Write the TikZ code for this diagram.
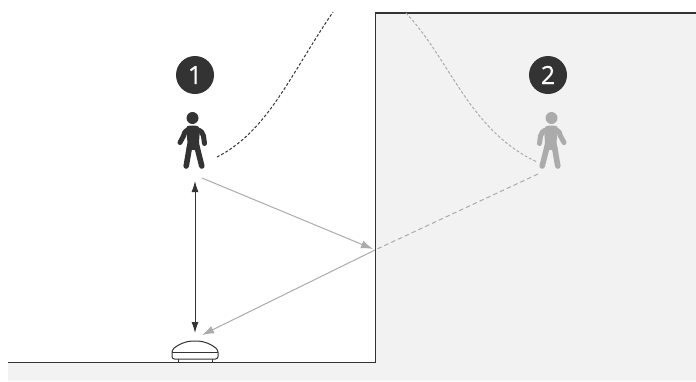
\documentclass[tikz,border=0pt]{standalone}
\usepackage{fontspec}
\setmainfont{Open Sans}
\newfontfamily\badgefont[FakeBold=0.6]{Open Sans}
\usetikzlibrary{arrows.meta}
\definecolor{dark}{HTML}{333333}
\definecolor{mid}{HTML}{ABABAB}
\definecolor{wall}{HTML}{F2F2F2}
\tikzset{
  badge/.style={circle,fill=dark,text=white,minimum size=38pt,inner sep=0pt,font=\badgefont\fontsize{25}{25}\selectfont},
  limb/.style={line cap=round,line join=round,line width=5pt,fill=none},
  edgeline/.style={draw=dark,line width=1.2pt},
  ray/.style={draw=mid,line width=1pt},
  raytip/.style={-{Latex[length=12pt,width=8pt]}},
  thincurve/.style={line width=1pt,dash pattern=on 2.8pt off 2pt},
}
\newcommand{\personfig}[3]{%
  \begin{scope}[shift={(#1,0)},xscale=#2,#3]
    \fill (0,118) circle (6pt);
    \draw[limb] (-5,130) .. controls (-8.5,130.5) and (-10.5,133) .. (-11,136) -- (-12,143.5);
    \draw[limb] (5,130) .. controls (7.5,131) and (8.5,133) .. (9,136) -- (12.5,142.5);
    \fill (-7.5,129) .. controls (-6.5,126.5) and (-5,125.5) .. (-2,125.5) -- (2,125.5)
      .. controls (5,125.5) and (6.5,126.5) .. (6.5,129) -- (5,142) -- (6,149) -- (-0.5,150) -- (-7.5,149) -- (-6.5,142) -- cycle;
    \draw[limb,line width=5.6pt] (-4.5,147) -- (-9.3,166);
    \draw[limb,line width=5.6pt] (3,147) -- (6.3,166);
  \end{scope}}
\begin{document}
\begin{tikzpicture}[x=1pt,y=-1pt]
\useasboundingbox (0,0) rectangle (696,381);
\fill[wall] (8,363) rectangle (696,381);
\fill[wall] (375,13) rectangle (696,381);
\draw[edgeline] (8,362.8) -- (375.5,362.8) -- (375.5,13) -- (696,13);

\node[badge] (one) at (195,75) {1};
\node[badge] (two) at (548,75) {2};

\personfig{192.5}{-1}{dark,draw=dark,fill=dark}
\personfig{551.5}{1}{mid,draw=mid,fill=mid}

\coordinate (p1feet) at (202,178);
\coordinate (p1base) at (195,181);
\coordinate (bounce) at (375,250);
\coordinate (bounce2) at (373,249);
\coordinate (camA) at (202,335);
\coordinate (camB) at (195,333);
\coordinate (p2feet) at (538,174);
\coordinate (c1a) at (217,157);
\coordinate (c1b) at (333,12);
\coordinate (c2a) at (406,13);
\coordinate (c2b) at (537,162);

\draw[ray,raytip] (p1feet) -- (bounce2);
\draw[ray,dash pattern=on 4.5pt off 3pt] (p2feet) -- (bounce);
\draw[ray,raytip] (bounce) -- (camA);
\draw[dark,line width=0.9pt,{Latex[length=11pt,width=7pt]}-{Latex[length=11pt,width=7pt]}] (p1base) -- (camB);

\draw[dark,thincurve] (c1a) .. controls (268,131) and (290,75) .. (c1b);
\draw[mid,thincurve] (c2a) .. controls (451,61) and (469,130) .. (c2b);

% camera
\draw[dark,line width=0.9pt,fill=white] (178.5,358) -- (178.5,362.5) -- (212.5,362.5) -- (212.5,358);
\draw[dark,line width=1pt,fill=white,rounded corners=2.5pt]
  (172,359) -- (172,350) .. controls (178,344.5) and (186,341) .. (195,341)
  .. controls (204,341) and (212,344.5) .. (218,350) -- (218,359) -- cycle;
\draw[dark,line width=0.9pt] (172,352.8) -- (218,352.8);
\end{tikzpicture}
\end{document}
